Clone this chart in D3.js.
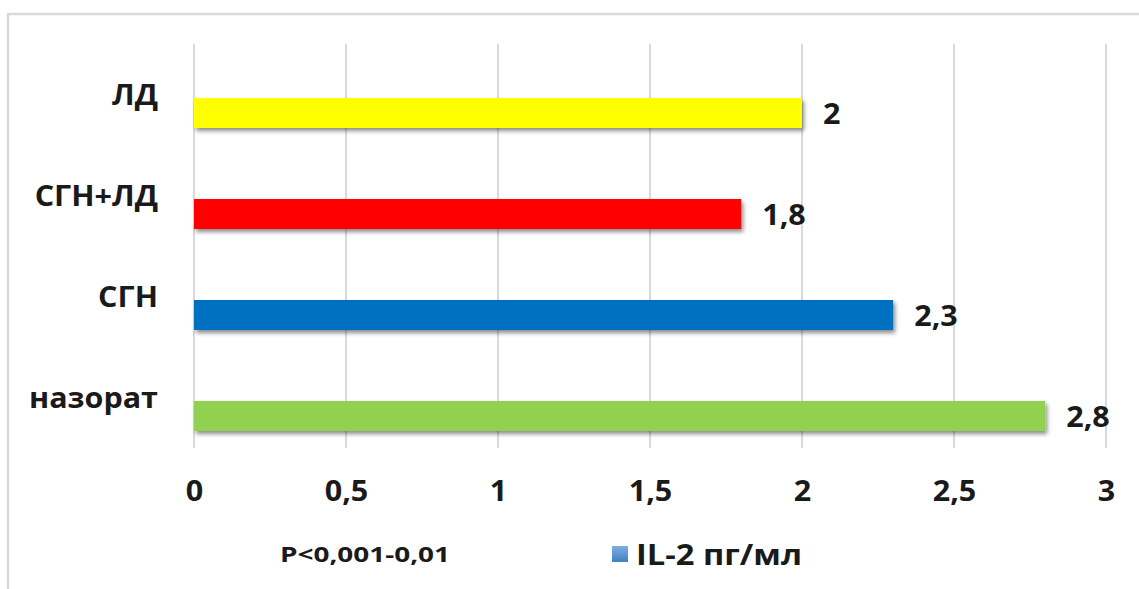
<!DOCTYPE html>
<html>
<head>
<meta charset="utf-8">
<script src="https://cdn.jsdelivr.net/npm/d3@7"></script>
<style>
  html, body { margin: 0; padding: 0; background: #fff; }
  svg { display: block; font-family: "Open Sans", "Noto Sans", sans-serif; }
</style>
</head>
<body>
<svg id="chart" width="1139" height="589"></svg>
<script>
// IL-2 (пг/мл) by group
const categories = ["ЛД", "СГН+ЛД", "СГН", "назорат"];
const values = [2, 1.8, 2.3, 2.8];
const barColors = ["#ffff00", "#ff0000", "#0070c0", "#92d050"];
const valueLabels = ["2", "1,8", "2,3", "2,8"];
const tickValues = [0, 0.5, 1, 1.5, 2, 2.5, 3];
const tickLabels = ["0", "0,5", "1", "1,5", "2", "2,5", "3"];
const seriesName = "IL-2 пг/мл";
const noteText = "P<0,001-0,01";

const svg = d3.select("#chart");
const plot = { left: 194, right: 1106, top: 44, bottom: 448 };
const stretch = "scale(1.09,1)"; // slightly wide lettering

// outer chart frame
svg.append("rect")
  .attr("x", 8).attr("y", 14)
  .attr("width", 1300).attr("height", 800)
  .attr("fill", "#fff")
  .attr("stroke", "#d9d9d9").attr("stroke-width", 2.5);

const defs = svg.append("defs");
const shadow = defs.append("filter").attr("id", "barShadow")
  .attr("x", "-5%").attr("y", "-30%").attr("width", "110%").attr("height", "180%");
shadow.append("feDropShadow")
  .attr("dx", 2).attr("dy", 3).attr("stdDeviation", 2)
  .attr("flood-color", "#000").attr("flood-opacity", 0.45);

const legendGrad = defs.append("linearGradient").attr("id", "legendGrad")
  .attr("x1", 0).attr("y1", 0).attr("x2", 0).attr("y2", 1);
legendGrad.append("stop").attr("offset", "0%").attr("stop-color", "#7fb0e0");
legendGrad.append("stop").attr("offset", "100%").attr("stop-color", "#3f7fc4");

const x = d3.scaleLinear().domain([0, 3]).range([plot.left, plot.right]);
const y = d3.scaleBand().domain(categories).range([plot.top, plot.bottom]);

// vertical gridlines
svg.append("g")
  .selectAll("line")
  .data(tickValues)
  .join("line")
  .attr("x1", d => x(d)).attr("x2", d => x(d))
  .attr("y1", plot.top).attr("y2", plot.bottom)
  .attr("stroke", "#d9d9d9").attr("stroke-width", 2);

// x axis labels
const xAxis = d3.axisBottom(x)
  .tickValues(tickValues)
  .tickFormat((d, i) => tickLabels[i])
  .tickSize(0).tickPadding(0);
const gx = svg.append("g")
  .attr("transform", `translate(0,${plot.bottom})`)
  .call(xAxis);
gx.select(".domain").remove();
gx.selectAll("text")
  .attr("y", 53).attr("dy", 0)
  .attr("transform", stretch)
  .attr("font-family", "'Open Sans', sans-serif")
  .attr("font-size", 28).attr("font-weight", 700)
  .attr("fill", "#1a1a1a");

// category labels
const yAxis = d3.axisLeft(y).tickSize(0).tickPadding(0);
const gy = svg.append("g")
  .attr("transform", `translate(158,0)`)
  .call(yAxis);
gy.select(".domain").remove();
gy.selectAll("text")
  .attr("x", 0).attr("dy", "0.36em")
  .attr("transform", stretch)
  .attr("text-anchor", "end")
  .attr("font-family", "'Open Sans', sans-serif")
  .attr("font-size", 28).attr("font-weight", 700)
  .attr("fill", "#1a1a1a");

// bars sit in the lower half of each band
const barOffset = 3.5, barH = 30;
const rows = categories.map((c, i) => ({ c, v: values[i], color: barColors[i], label: valueLabels[i] }));

svg.append("g")
  .selectAll("rect")
  .data(rows)
  .join("rect")
  .attr("x", x(0))
  .attr("y", d => y(d.c) + y.bandwidth() / 2 + barOffset)
  .attr("width", d => x(d.v) - x(0))
  .attr("height", barH)
  .attr("fill", d => d.color)
  .attr("filter", "url(#barShadow)");

// value labels
svg.append("g")
  .selectAll("g")
  .data(rows)
  .join("g")
  .attr("transform", d => `translate(${x(d.v) + 21},${y(d.c) + y.bandwidth() / 2 + barOffset + barH / 2 + 11})`)
  .append("text")
  .attr("transform", stretch)
  .attr("font-size", 28).attr("font-weight", 700)
  .attr("fill", "#1a1a1a")
  .text(d => d.label);

// note and legend
svg.append("text")
  .attr("x", 280).attr("y", 562)
  .attr("font-size", 22).attr("font-weight", 700)
  .attr("textLength", 170).attr("lengthAdjust", "spacingAndGlyphs")
  .attr("fill", "#1a1a1a")
  .text(noteText);

svg.append("rect")
  .attr("x", 612).attr("y", 546)
  .attr("width", 16).attr("height", 16)
  .attr("fill", "url(#legendGrad)");

svg.append("text")
  .attr("x", 636).attr("y", 565)
  .attr("font-size", 28).attr("font-weight", 700)
  .attr("textLength", 166).attr("lengthAdjust", "spacingAndGlyphs")
  .attr("fill", "#1a1a1a")
  .text(seriesName);
</script>
</body>
</html>
